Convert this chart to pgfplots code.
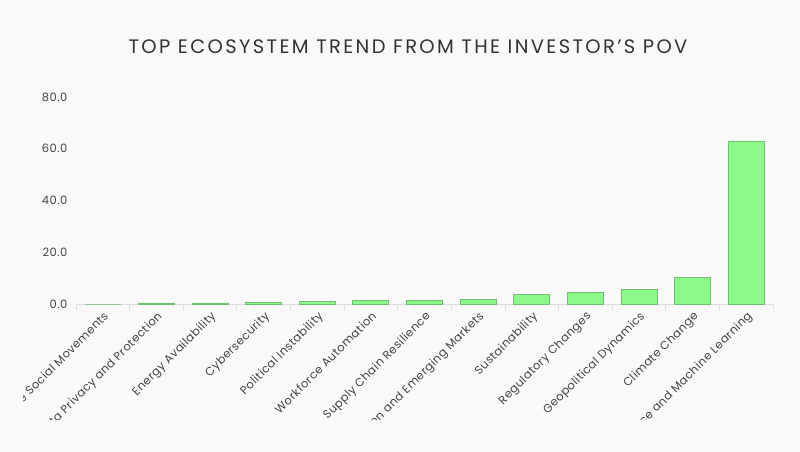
\documentclass[border=0pt]{standalone}
\usepackage{fontspec}
\setmainfont{Poppins}
\newfontfamily\titlefont[LetterSpace=12]{Poppins}
\newfontfamily\labfont[LetterSpace=4]{Poppins}
\usepackage{pgfplots}
\pgfplotsset{compat=1.18}
\definecolor{bg}{HTML}{F9F9F9}
\definecolor{barfill}{HTML}{8CFA8A}
\definecolor{baredge}{HTML}{74BE72}
\definecolor{txt}{HTML}{444444}
\definecolor{axc}{HTML}{DDDDDD}
\begin{document}
\begin{tikzpicture}[x=1pt,y=1pt]
\fill[bg] (0,0) rectangle (800,452);
\useasboundingbox (0,0) rectangle (800,452);
\node[font=\titlefont\fontsize{19.5}{23}\selectfont, text=black!80] at (408,405) {TOP ECOSYSTEM TREND FROM THE INVESTOR’S POV};
\clip (23,32) rectangle (800,452);
\begin{axis}[
  at={(76pt,148pt)}, anchor=south west,
  scale only axis, width=697pt, height=207pt,
  xmin=-0.5, xmax=12.5, ymin=0, ymax=80,
  axis lines*=left,
  x axis line style={draw=axc, line width=0.8pt},
  y axis line style={draw=none},
  ytick={0,20,40,60,80},
  ytick style={draw=none},
  yticklabel style={/pgf/number format/fixed, /pgf/number format/fixed zerofill, /pgf/number format/precision=1, /pgf/number format/assume math mode=true},
  yticklabel style={font=\labfont\fontsize{11.5}{13}\selectfont, text=txt, xshift=-5pt},
  xtick={0,...,12},
  minor xtick={-0.5,0.5,...,12.5},
  major tick length=0pt,
  minor tick length=6pt,
  tick align=outside,
  minor tick style={draw=axc, line width=0.8pt},
  xticklabels={Inclusive Social Movements, Data Privacy and Protection, Energy Availability, Cybersecurity, Political Instability, Workforce Automation, Supply Chain Resilience, Globalization and Emerging Markets, Sustainability, Regulatory Changes, Geopolitical Dynamics, Climate Change, Artificial Intelligence and Machine Learning},
  xticklabel style={anchor=north east, xshift=0pt, yshift=-5pt, rotate=45, font=\labfont\fontsize{11.5}{13}\selectfont, text=txt, inner sep=1pt},
  clip=false,
]
\addplot[ybar, bar width=36pt, fill=barfill, draw=baredge, line width=0.8pt] coordinates {
(0,0) (1,0.4) (2,0.4) (3,0.8) (4,0.9) (5,1.4) (6,1.3) (7,1.7) (8,3.6) (9,4.6) (10,5.7) (11,10.2) (12,63.0)
};
\end{axis}
\end{tikzpicture}
\end{document}
